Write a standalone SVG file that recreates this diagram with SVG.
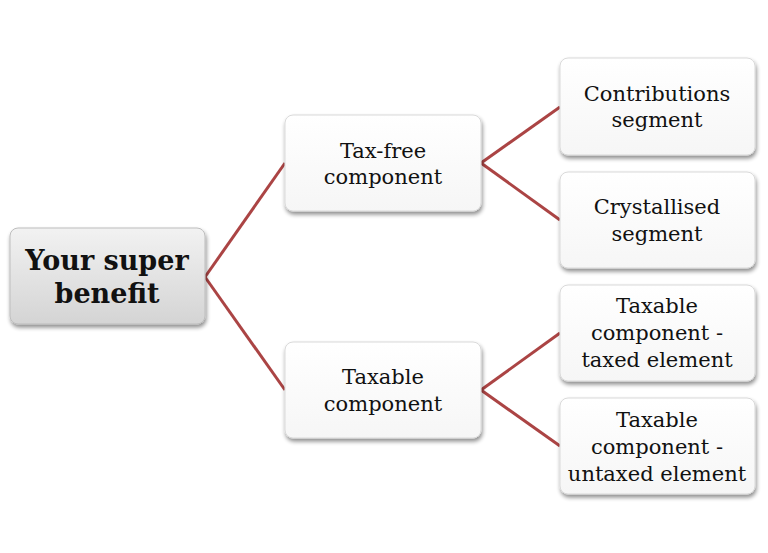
<svg xmlns="http://www.w3.org/2000/svg" width="768" height="553" viewBox="0 0 768 553">
<defs>
<linearGradient id="gray" x1="0" y1="0" x2="0" y2="1">
<stop offset="0" stop-color="#f2f2f2"/>
<stop offset="1" stop-color="#d4d4d4"/>
</linearGradient>
<linearGradient id="white" x1="0" y1="0" x2="0" y2="1">
<stop offset="0" stop-color="#ffffff"/>
<stop offset="1" stop-color="#f6f6f6"/>
</linearGradient>
<filter id="sh" x="-10%" y="-10%" width="125%" height="130%">
<feGaussianBlur in="SourceAlpha" stdDeviation="2"/>
<feOffset dx="1" dy="3" result="b"/>
<feComponentTransfer><feFuncA type="linear" slope="0.45"/></feComponentTransfer>
<feMerge><feMergeNode/><feMergeNode in="SourceGraphic"/></feMerge>
</filter>
</defs>
<style>
.box{fill:url(#white);stroke:#d9d9d9;stroke-width:1;filter:url(#sh)}
.root{fill:url(#gray);stroke:#bdbdbd;stroke-width:1;filter:url(#sh)}
.t{font-family:"DejaVu Serif","Liberation Serif",serif;font-size:21px;fill:#111;text-anchor:middle}
.tb{font-family:"DejaVu Serif","Liberation Serif",serif;font-size:27px;font-weight:bold;fill:#111;text-anchor:middle}
.c{stroke:#ab4444;stroke-width:3;fill:none}
</style>
<rect width="768" height="553" fill="#ffffff"/>
<g id="connectors">
<path class="c" d="M205,277 L285,163"/>
<path class="c" d="M205,277 L285,390"/>
<path class="c" d="M481,163 L560,107"/>
<path class="c" d="M481,163 L560,220"/>
<path class="c" d="M481,390 L560,333"/>
<path class="c" d="M481,390 L560,446"/>
</g>
<g id="root">
<rect class="root" x="10" y="228" width="195" height="96" rx="8"/>
<text class="tb" x="107" y="270">Your super</text>
<text class="tb" x="107" y="303">benefit</text>
</g>
<g id="taxfree">
<rect class="box" x="285" y="115" width="196" height="96" rx="8"/>
<text class="t" x="383" y="158">Tax-free</text>
<text class="t" x="383" y="184">component</text>
</g>
<g id="taxable">
<rect class="box" x="285" y="342" width="196" height="96" rx="8"/>
<text class="t" x="383" y="384">Taxable</text>
<text class="t" x="383" y="411">component</text>
</g>
<g id="contributions">
<rect class="box" x="560" y="58" width="195" height="97" rx="8"/>
<text class="t" x="657" y="101">Contributions</text>
<text class="t" x="657" y="127">segment</text>
</g>
<g id="crystallised">
<rect class="box" x="560" y="172" width="195" height="96" rx="8"/>
<text class="t" x="657" y="214">Crystallised</text>
<text class="t" x="657" y="241">segment</text>
</g>
<g id="taxed">
<rect class="box" x="560" y="285" width="195" height="96" rx="8"/>
<text class="t" x="657" y="313">Taxable</text>
<text class="t" x="657" y="340">component -</text>
<text class="t" x="657" y="367">taxed element</text>
</g>
<g id="untaxed">
<rect class="box" x="560" y="398" width="195" height="96" rx="8"/>
<text class="t" x="657" y="427">Taxable</text>
<text class="t" x="657" y="454">component -</text>
<text class="t" x="657" y="481">untaxed element</text>
</g>
</svg>
